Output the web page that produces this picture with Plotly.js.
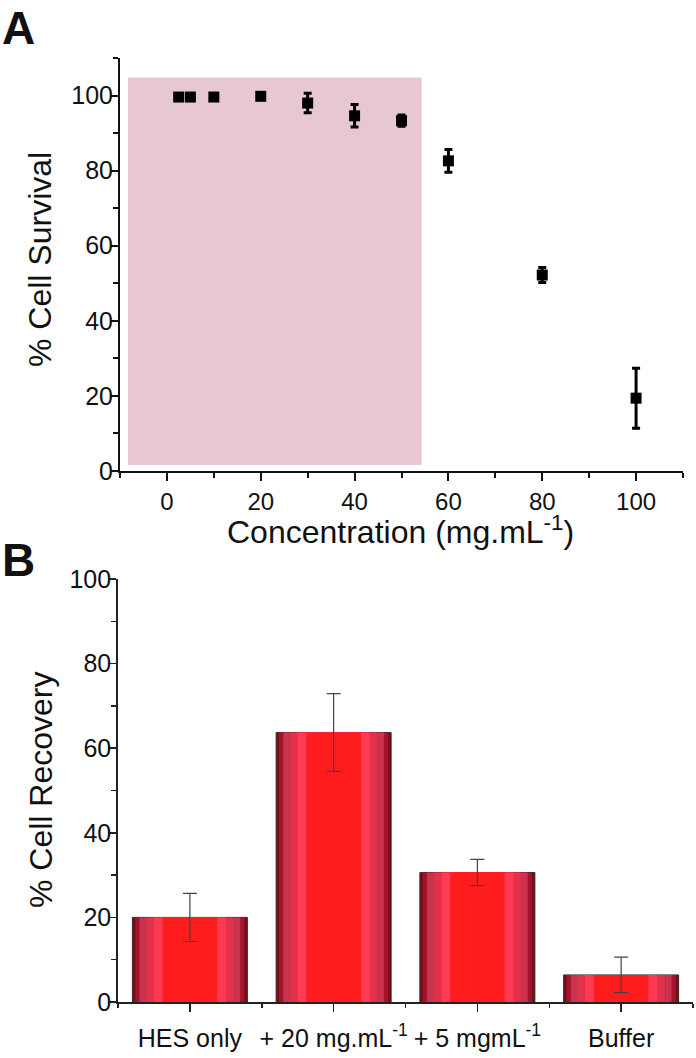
<!DOCTYPE html>
<html>
<head>
<meta charset="utf-8">
<script src="https://cdn.plot.ly/plotly-3.0.1.min.js"></script>
<style>html,body{margin:0;padding:0;background:#fff;}</style>
</head>
<body>
<div id="chart" style="width:696px;height:1058px;"></div>
<script>
// Panel A: cell survival vs concentration
const concentration = [2.5, 5, 10, 20, 30, 40, 50, 60, 80, 100];
const survival      = [99.6, 99.6, 99.6, 99.8, 98.0, 94.6, 93.3, 82.6, 52.2, 19.4];
const survivalErr   = [0.6, 0.6, 0.8, 0.8, 2.6, 3.0, 1.5, 3.0, 2.0, 8.0];
// shaded (non-toxic) region in data units
const shadeX = [-8.3, 54.3];
const shadeY = [1.6, 104.8];

// Panel B: cell recovery
const groups      = ["HES only", "+ 20 mg.mL<sup>-1</sup>", "+ 5 mgmL<sup>-1</sup>", "Buffer"];
const recovery    = [20.0, 63.7, 30.6, 6.4];
const recoveryErr = [5.7, 9.2, 3.1, 4.2];

const titleA_x = "Concentration (mg.mL<sup>-1</sup>)";
const titleA_y = "% Cell Survival";
const titleB_y = "% Cell Recovery";

const groupIdx = groups.map((g, i) => i);
const FONT = "Liberation Sans, Arial, sans-serif";

const traces = [];
traces.push({
  type: "scatter", mode: "markers", x: concentration, y: survival,
  xaxis: "x", yaxis: "y",
  marker: {symbol: "square", size: 11, color: "#000"},
  error_y: {type: "data", array: survivalErr, visible: true, color: "#000", thickness: 3, width: 4},
  showlegend: false, hoverinfo: "x+y"
});

// layered bars to imitate the striped gradient fill
const layers = [
  {w: 0.80, c: "#7a0a16", line: {color: "#3a2a2a", width: 1}},
  {w: 0.76, c: "#a3142c", line: {width: 0}},
  {w: 0.70, c: "#c8344f", line: {width: 0}},
  {w: 0.60, c: "#e5304a", line: {width: 0}},
  {w: 0.50, c: "#ff3a55", line: {width: 0}},
  {w: 0.38, c: "#ff1c1c", line: {width: 0}}
];
layers.forEach((L, k) => {
  const t = {
    type: "bar", x: groupIdx, y: recovery, width: L.w,
    xaxis: "x2", yaxis: "y2",
    marker: {color: L.c, line: L.line},
    showlegend: false, hoverinfo: "y"
  };
  if (k === layers.length - 1) {
    t.error_y = {type: "data", array: recoveryErr, visible: true, color: "#444", thickness: 1.2, width: 7};
  }
  traces.push(t);
});

const commonAxis = {
  showgrid: false, zeroline: false, showline: true,
  ticks: "outside", tickfont: {family: FONT, size: 25, color: "#111"}
};

const layout = {
  width: 696, height: 1058,
  margin: {l: 0, r: 0, t: 0, b: 0},
  paper_bgcolor: "#fff", plot_bgcolor: "rgba(0,0,0,0)",
  font: {family: FONT, color: "#111"},
  barmode: "overlay",
  xaxis: Object.assign({}, commonAxis, {
    domain: [120/696, 683/696], anchor: "y",
    range: [-10, 110], dtick: 20, tick0: 0, tickangle: 0,
    tickfont: {family: FONT, size: 24, color: "#111"},
    linecolor: "#111", linewidth: 2, ticklen: 8, tickwidth: 2, tickcolor: "#111",
    minor: {dtick: 10, tick0: 0, ticklen: 5, tickwidth: 2, tickcolor: "#111", ticks: "outside"}
  }),
  yaxis: Object.assign({}, commonAxis, {
    domain: [(1058-471)/1058, (1058-58)/1058], anchor: "x",
    range: [0, 110], dtick: 20, tick0: 0, ticklabelstandoff: -8,
    linecolor: "#111", linewidth: 2, ticklen: 8, tickwidth: 2, tickcolor: "#111",
    minor: {dtick: 10, tick0: 0, ticklen: 5, tickwidth: 2, tickcolor: "#111", ticks: "outside"}
  }),
  xaxis2: Object.assign({}, commonAxis, {
    domain: [118/696, 693/696], anchor: "y2",
    range: [-0.5, 3.5], tickmode: "array", tickvals: groupIdx, ticktext: groups,
    tickangle: 0, ticklabelstandoff: 5,
    linecolor: "#222", linewidth: 1.8, ticklen: 8, tickwidth: 1.5, tickcolor: "#222",
    minor: {tickmode: "array", tickvals: [-0.5, 0.5, 1.5, 2.5, 3.5], ticklen: 4, tickwidth: 1.5, tickcolor: "#222", ticks: "outside"}
  }),
  yaxis2: Object.assign({}, commonAxis, {
    domain: [(1058-1002)/1058, (1058-579)/1058], anchor: "x2",
    range: [0, 100], dtick: 20, tick0: 0, ticklabelstandoff: -8,
    linecolor: "#222", linewidth: 1.8, ticklen: 8, tickwidth: 1.5, tickcolor: "#222",
    minor: {dtick: 10, tick0: 0, ticklen: 5, tickwidth: 1.5, tickcolor: "#222", ticks: "outside"}
  }),
  shapes: [{
    type: "rect", xref: "x", yref: "y", layer: "below",
    x0: shadeX[0], x1: shadeX[1], y0: shadeY[0], y1: shadeY[1],
    fillcolor: "#e8c7d5", line: {width: 0}
  }],
  annotations: [
    {text: "<b>A</b>", xref: "paper", yref: "paper", x: 0.0, y: 1.0, xanchor: "left", yanchor: "top",
     showarrow: false, font: {family: FONT, size: 46, color: "#111"}},
    {text: "<b>B</b>", xref: "paper", yref: "paper", x: 0.0, y: (1058-532)/1058, xanchor: "left", yanchor: "top",
     showarrow: false, font: {family: FONT, size: 46, color: "#111"}},
    {text: titleA_x, xref: "paper", yref: "paper", x: 400/696, y: (1058-530)/1058, xanchor: "center", yanchor: "middle",
     showarrow: false, font: {family: FONT, size: 32, color: "#111"}},
    {text: titleA_y, xref: "paper", yref: "paper", x: 40/696, y: (1058-260)/1058, xanchor: "center", yanchor: "middle",
     textangle: -90, showarrow: false, font: {family: FONT, size: 32, color: "#111"}},
    {text: titleB_y, xref: "paper", yref: "paper", x: 41/696, y: (1058-790)/1058, xanchor: "center", yanchor: "middle",
     textangle: -90, showarrow: false, font: {family: FONT, size: 32, color: "#111"}}
  ]
};

Plotly.newPlot("chart", traces, layout, {displayModeBar: false, staticPlot: true});
</script>
</body>
</html>
